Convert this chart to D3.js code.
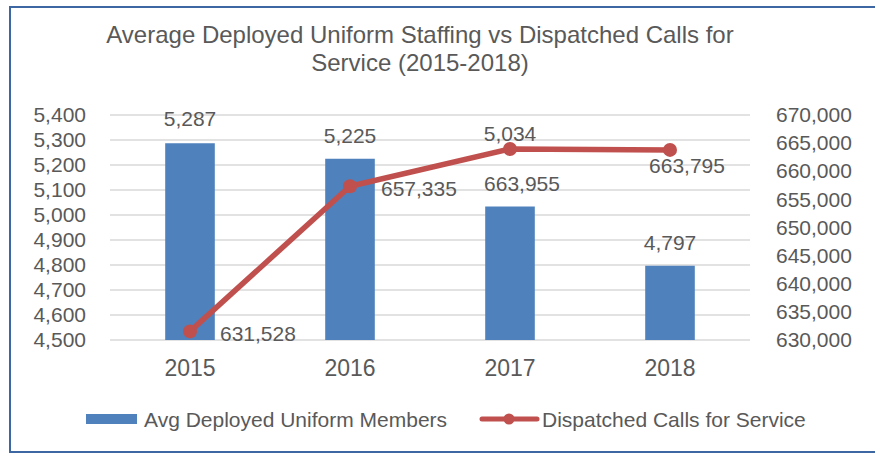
<!DOCTYPE html>
<html>
<head>
<meta charset="utf-8">
<script src="https://cdn.jsdelivr.net/npm/d3@7/dist/d3.min.js"></script>
<style>
  html, body { margin: 0; padding: 0; background: #ffffff; }
  svg { display: block; }
  text { font-family: "Liberation Sans", Arial, sans-serif; fill: #595959; }
</style>
</head>
<body>
<svg id="chart" width="875" height="455"></svg>
<script>
// Data
const years = ["2015", "2016", "2017", "2018"];
const deployedMembers = [5287, 5225, 5034, 4797];
const dispatchedCalls = [631528, 657335, 663955, 663795];
const leftTicks = [4500, 4600, 4700, 4800, 4900, 5000, 5100, 5200, 5300, 5400];
const rightTicks = [630000, 635000, 640000, 645000, 650000, 655000, 660000, 665000, 670000];
const titleLines = ["Average Deployed Uniform Staffing vs Dispatched Calls for", "Service (2015-2018)"];
const seriesNames = ["Avg Deployed Uniform Members", "Dispatched Calls for Service"];

// Label placement (offsets from each mark)
const barLabelOffsetY = [-17, -16, -66, -16];
const lineLabelOffset = [
  { dx: 30, dy: 10, anchor: "start" },
  { dx: 31, dy: 10, anchor: "start" },
  { dx: 12, dy: 42, anchor: "middle" },
  { dx: 17, dy: 23, anchor: "middle" }
];

const BLUE = "#4f81bd";
const RED = "#c0504d";
const fmt = d3.format(",");

const svg = d3.select("#chart");

svg.append("rect").attr("width", 875).attr("height", 455).attr("fill", "#ffffff");

// Outer frame
svg.append("rect")
  .attr("x", 10).attr("y", 7).attr("width", 880).attr("height", 445)
  .attr("fill", "none").attr("stroke", "#3d67a3").attr("stroke-width", 2);

const plot = { left: 110, right: 750, top: 115, bottom: 340 };

const x = d3.scaleBand().domain(years).range([plot.left, plot.right])
  .paddingInner(0.69).paddingOuter(0.345);
const yL = d3.scaleLinear().domain([4500, 5400]).range([plot.bottom, plot.top]);
const yR = d3.scaleLinear().domain([630000, 670000]).range([plot.bottom, plot.top]);
const cx = d => x(d) + x.bandwidth() / 2;

// Title
svg.append("g").selectAll("text").data(titleLines).join("text")
  .attr("x", 420).attr("y", (d, i) => 43 + i * 28)
  .attr("text-anchor", "middle").attr("font-size", 24)
  .text(d => d);

// Gridlines
svg.append("g").selectAll("line").data(leftTicks).join("line")
  .attr("x1", plot.left).attr("x2", plot.right)
  .attr("y1", d => yL(d)).attr("y2", d => yL(d))
  .attr("stroke", "#d9d9d9").attr("stroke-width", 1.5);

// Left axis
const leftAxis = svg.append("g").attr("transform", "translate(86,0)")
  .call(d3.axisLeft(yL).tickValues(leftTicks).tickFormat(fmt).tickSize(0).tickPadding(0));
leftAxis.select(".domain").remove();
leftAxis.selectAll("text").attr("font-size", 21).attr("fill", "#595959")
  .attr("font-family", "Liberation Sans, Arial, sans-serif");

// Right axis
const rightAxis = svg.append("g").attr("transform", "translate(776,0)")
  .call(d3.axisRight(yR).tickValues(rightTicks).tickFormat(fmt).tickSize(0).tickPadding(0));
rightAxis.select(".domain").remove();
rightAxis.selectAll("text").attr("font-size", 21).attr("fill", "#595959")
  .attr("font-family", "Liberation Sans, Arial, sans-serif");

// Category axis
const bottomAxis = svg.append("g").attr("transform", `translate(0,${plot.bottom})`)
  .call(d3.axisBottom(x).tickSize(0).tickPadding(20));
bottomAxis.select(".domain").remove();
bottomAxis.selectAll("text").attr("font-size", 23).attr("fill", "#595959")
  .attr("font-family", "Liberation Sans, Arial, sans-serif");

// Bars
svg.append("g").selectAll("rect").data(years).join("rect")
  .attr("x", d => x(d)).attr("width", x.bandwidth())
  .attr("y", (d, i) => yL(deployedMembers[i]))
  .attr("height", (d, i) => yL(4500) - yL(deployedMembers[i]))
  .attr("fill", BLUE);

// Line
const line = d3.line().x((d, i) => cx(years[i])).y(d => yR(d));
svg.append("path").datum(dispatchedCalls)
  .attr("d", line).attr("fill", "none").attr("stroke", RED)
  .attr("stroke-width", 5.5).attr("stroke-linejoin", "round");
svg.append("g").selectAll("circle").data(dispatchedCalls).join("circle")
  .attr("cx", (d, i) => cx(years[i])).attr("cy", d => yR(d))
  .attr("r", 7).attr("fill", RED);

// Bar value labels
svg.append("g").selectAll("text").data(deployedMembers).join("text")
  .attr("x", (d, i) => cx(years[i]))
  .attr("y", (d, i) => yL(d) + barLabelOffsetY[i])
  .attr("text-anchor", "middle").attr("font-size", 21)
  .text(d => fmt(d));

// Line value labels
svg.append("g").selectAll("text").data(dispatchedCalls).join("text")
  .attr("x", (d, i) => cx(years[i]) + lineLabelOffset[i].dx)
  .attr("y", (d, i) => yR(d) + lineLabelOffset[i].dy)
  .attr("text-anchor", (d, i) => lineLabelOffset[i].anchor)
  .attr("font-size", 21)
  .text(d => fmt(d));

// Legend
const legend = svg.append("g");
legend.append("rect").attr("x", 86).attr("y", 414).attr("width", 51).attr("height", 10).attr("fill", BLUE);
legend.append("text").attr("x", 144).attr("y", 427).attr("font-size", 21).text(seriesNames[0]);
legend.append("line").attr("x1", 482).attr("x2", 537).attr("y1", 419).attr("y2", 419)
  .attr("stroke", RED).attr("stroke-width", 5).attr("stroke-linecap", "round");
legend.append("circle").attr("cx", 509).attr("cy", 419).attr("r", 5.5).attr("fill", RED);
legend.append("text").attr("x", 542).attr("y", 427).attr("font-size", 21).text(seriesNames[1]);
</script>
</body>
</html>
